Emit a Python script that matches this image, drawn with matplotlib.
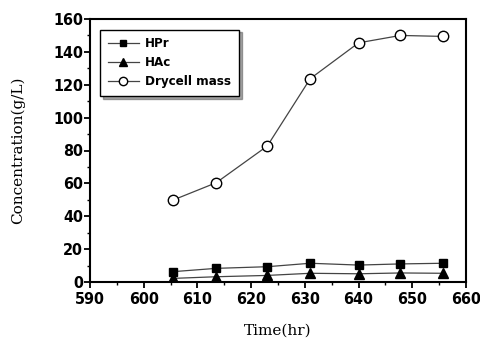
import numpy as np
import matplotlib.pyplot as plt
from matplotlib.ticker import MultipleLocator

# data
time_hr = [605.5, 613.5, 623, 631, 640, 647.8, 655.8]
hpr = [6.3, 8.3, 9.3, 11.4, 10.3, 11.0, 11.4]
hac = [2.2, 3.2, 4.0, 5.3, 5.0, 5.5, 5.3]
dry_cell = [49.9, 60.4, 82.7, 123.7, 145.5, 150.0, 149.4]

tick_font = ['DejaVu Sans', 'Liberation Sans']

fig = plt.figure(figsize=(4.81, 3.42), dpi=100)
ax = fig.add_axes([90/481, 1-282/342, (466-90)/481, (282-19)/342])

ax.plot(time_hr, hpr, '-', color='#444444', lw=0.9, marker='s', ms=6,
        mfc='black', mec='black', label='HPr')
ax.plot(time_hr, hac, '-', color='#444444', lw=0.9, marker='^', ms=6.5,
        mfc='black', mec='black', label='HAc')
ax.plot(time_hr, dry_cell, '-', color='#444444', lw=0.9, marker='o', ms=7.5,
        mfc='white', mec='black', mew=1.0, label='Drycell mass')

ax.set_xlim(590, 660)
ax.set_ylim(0, 160)
ax.xaxis.set_major_locator(MultipleLocator(10))
ax.xaxis.set_minor_locator(MultipleLocator(5))
ax.yaxis.set_major_locator(MultipleLocator(20))
ax.yaxis.set_minor_locator(MultipleLocator(10))
ax.tick_params(which='major', direction='out', length=4, width=1.3)
ax.tick_params(which='minor', direction='out', length=2.5, width=1.0)
ax.tick_params(axis='y', pad=1)
ax.tick_params(axis='x', pad=3)
for lab in ax.get_xticklabels() + ax.get_yticklabels():
    lab.set_family(tick_font)
    lab.set_fontweight('bold')
    lab.set_fontstretch('condensed')
    lab.set_fontsize(11.5)
for s in ax.spines.values():
    s.set_linewidth(1.5)

ax.set_xlabel('Time(hr)', family='DejaVu Serif', fontsize=11, labelpad=12)
ax.set_ylabel('Concentration(g/L)', family='DejaVu Serif', fontsize=11, labelpad=20)

leg = ax.legend(loc='upper left', bbox_to_anchor=(0.01, 0.985), frameon=True,
                fancybox=False, shadow=True, edgecolor='black',
                prop={'family': tick_font, 'weight': 'bold', 'size': 9.5,
                      'stretch': 'condensed'},
                handlelength=2.3, handletextpad=0.5, borderpad=0.6,
                labelspacing=0.45, markerscale=0.8)
leg.get_frame().set_linewidth(1.0)

plt.savefig('out.png', dpi=100)
